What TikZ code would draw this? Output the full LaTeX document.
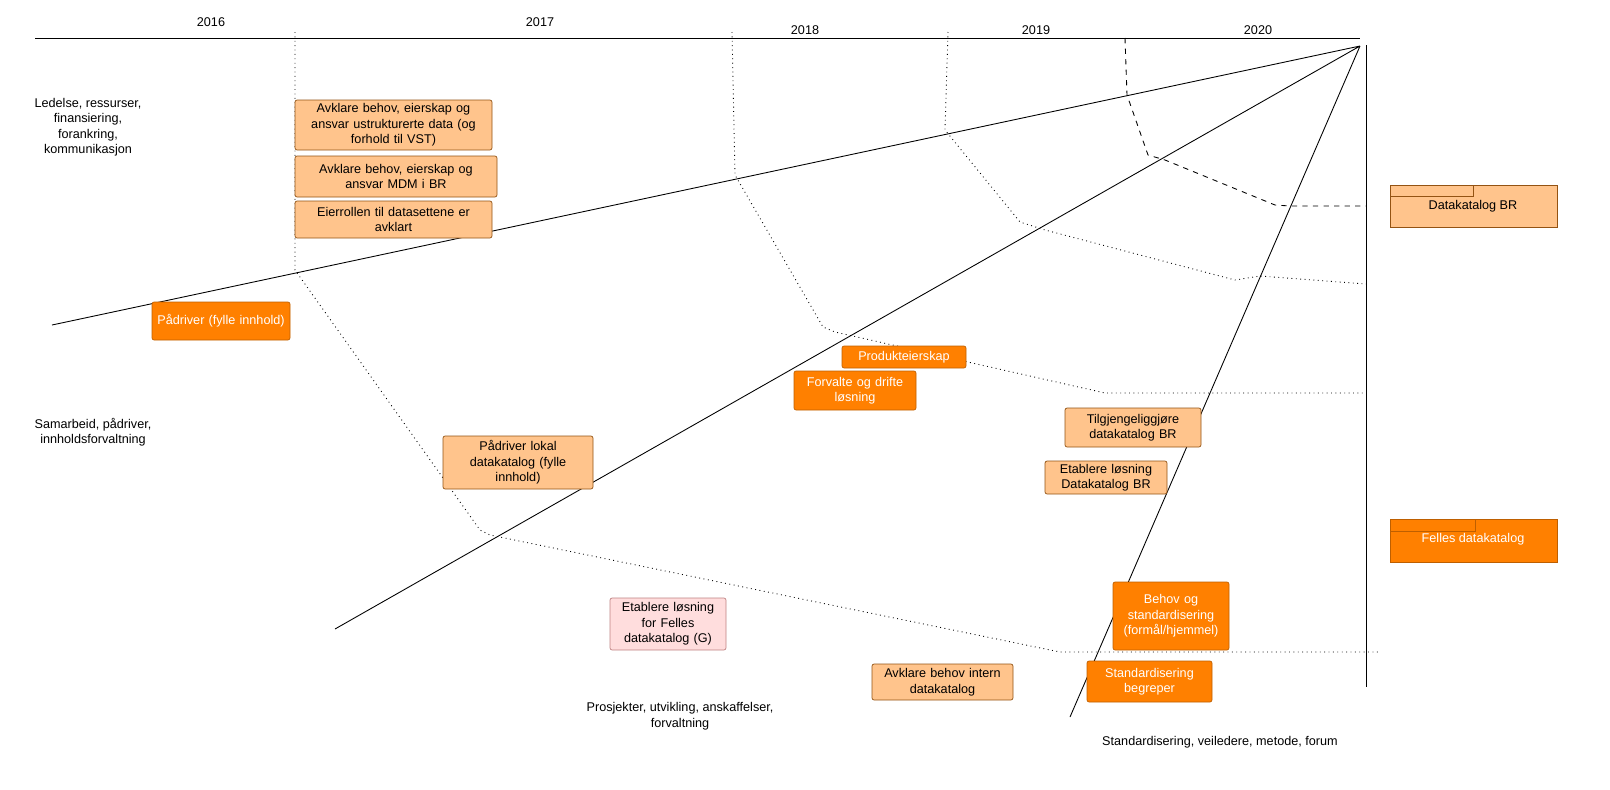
\documentclass[tikz,border=0pt]{standalone}
\usepackage{fontspec}
\setmainfont{Liberation Sans}
\begin{document}
\begin{tikzpicture}[x=0.02cm,y=-0.02cm,
 lt/.style={draw=black!50!orange!70!brown,fill={rgb,255:red,255;green,196;blue,140},rounded corners=1.2pt,align=center,inner sep=1pt,line width=0.4pt},
 dk/.style={draw={rgb,255:red,190;green,95;blue,0},fill={rgb,255:red,255;green,128;blue,0},text=white,rounded corners=1.2pt,align=center,inner sep=1pt,line width=0.4pt},
 pk/.style={draw={rgb,255:red,190;green,130;blue,130},fill={rgb,255:red,255;green,221;blue,221},rounded corners=1.2pt,align=center,inner sep=1pt,line width=0.4pt},
 lbl/.style={align=center,inner sep=0pt},
 dot/.style={dotted,line width=0.5pt},
 every node/.style={font=\fontsize{7.2}{8.8}\selectfont}]
% axis
\coordinate (a0) at (35,38); \coordinate (a1) at (1360,38);
\draw[line width=0.5pt] (a0) -- (a1);
\foreach \x/\y/\t in {211/22/2016,540/22/2017,805/30/2018,1036/30/2019,1258/30/2020}
 \node[lbl] at (\x,\y) {\t};
\coordinate (apex) at (1360,46);
\coordinate (e1) at (52,325); \coordinate (e2) at (335,629); \coordinate (e3) at (1070,717);
\draw[line width=0.5pt] (apex) -- (e1) (apex) -- (e2) (apex) -- (e3);
\coordinate (v0) at (1366,45); \coordinate (v1) at (1366,687);
\draw[line width=0.5pt] (v0) -- (v1);
% dividers
\draw[dot] (295,32) -- (295,270) -- (480,530) -- (490,535) -- (1060,652) -- (1378,652);
\draw[dot] (732,32) -- (735,175) -- (823,327) -- (835,332) -- (1105,393) -- (1366,393);
\draw[dot] (948,32) -- (945,130) -- (1020,222) -- (1045,230) -- (1235,280) -- (1260,276) -- (1366,284);
\draw[dashed,line width=0.5pt] (1125,38) -- (1127,95) -- (1148,155) -- (1165,160) -- (1275,205) -- (1290,206) -- (1366,206);
% lane labels
\node[lbl] (l1) at (88,127) {Ledelse, ressurser,\\finansiering,\\forankring,\\kommunikasjon};
\node[lbl] (l2) at (93,432) {Samarbeid, pådriver,\\innholdsforvaltning};
\node[lbl] (l3) at (680,716) {Prosjekter, utvikling, anskaffelser,\\forvaltning};
\node[lbl] (l4) at (1220,742) {Standardisering, veiledere, metode, forum};
% boxes
\newcommand\bx[6]{\node[#1,minimum width={(#4-#2)*0.02cm},minimum height={(#5-#3)*0.02cm},text width={(#4-#2)*0.02cm-4pt}] at ({(#2+#4)/2},{(#3+#5)/2}) {#6};}
\bx{lt}{295}{100}{492}{150}{Avklare behov, eierskap og\\ansvar ustrukturerte data (og\\forhold til VST)}
\bx{lt}{295}{156}{497}{197}{Avklare behov, eierskap og\\ansvar MDM i BR}
\bx{lt}{295}{201}{492}{238}{Eierrollen til datasettene er\\avklart}
\bx{lt}{443}{436}{593}{489}{Pådriver lokal\\datakatalog (fylle\\innhold)}
\bx{lt}{1065}{408}{1201}{447}{Tilgjengeliggjøre\\datakatalog BR}
\bx{lt}{1045}{461}{1167}{494}{Etablere løsning\\Datakatalog BR}
\bx{lt}{872}{664}{1013}{700}{Avklare behov intern\\datakatalog}
\bx{pk}{610}{598}{726}{650}{Etablere løsning\\for Felles\\datakatalog (G)}
\bx{dk}{152}{302}{290}{340}{Pådriver (fylle innhold)\\[1.1em]}
\bx{dk}{842}{346}{966}{368}{Produkteierskap}
\bx{dk}{794}{371}{916}{410}{Forvalte og drifte\\løsning}
\bx{dk}{1113}{582}{1229}{650}{Behov og\\standardisering\\(formål/hjemmel)\\[1em]}
\bx{dk}{1087}{661}{1212}{702}{Standardisering\\begreper}
% modules
\draw[lt,rounded corners=0pt] (1390,185) rectangle (1557,227);
\draw[lt,rounded corners=0pt] (1390,185) rectangle (1473,196);
\node[lbl] (m1) at (1473,206) {Datakatalog BR};
\draw[dk,rounded corners=0pt] (1390,519) rectangle (1557,562);
\draw[dk,rounded corners=0pt] (1390,519) rectangle (1475,531);
\node[lbl,text=white] (m2) at (1473,539) {Felles datakatalog};
\pgfresetboundingbox
\useasboundingbox (0,0) rectangle (1610,789);
\end{tikzpicture}
\end{document}
